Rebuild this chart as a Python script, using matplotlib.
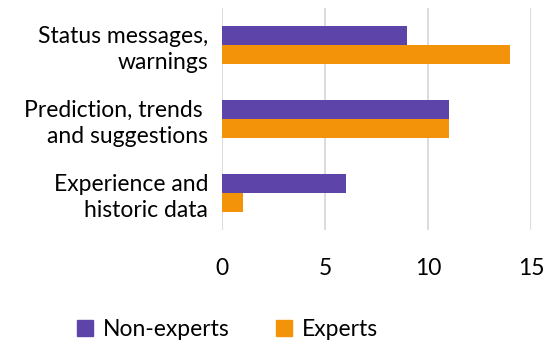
import numpy as np
import matplotlib
matplotlib.use("Agg")
import matplotlib.pyplot as plt
from matplotlib.patches import Patch

categories = ["Status messages,\nwarnings", "Prediction, trends \nand suggestions", "Experience and\nhistoric data"]
non_experts = [9, 11, 6]
experts = [14, 11, 1]
series_names = ["Non-experts", "Experts"]

purple = "#5d44a8"
orange = "#f2930a"

plt.rcParams["font.family"] = ["Lato", "DejaVu Sans"]
fs = 16.5

fig = plt.figure(figsize=(5.52, 3.45), dpi=100)
ax = fig.add_axes([0.402, 0.333, 0.56, 0.644])

y = np.arange(len(categories))
h = 0.26
ax.barh(y - h / 2, non_experts, height=h, color=purple, zorder=3)
ax.barh(y + h / 2, experts, height=h, color=orange, zorder=3)

ax.set_ylim(len(categories) - 0.5, -0.5)
ax.set_xlim(0, 15)
ax.set_xticks([0, 5, 10, 15])
ax.set_yticks(y)
ax.set_yticklabels(categories, fontsize=fs, linespacing=1.3, ha="right")
ax.tick_params(axis="x", labelsize=fs, length=0, pad=20)
ax.tick_params(axis="y", length=0, pad=10)
ax.grid(axis="x", color="#d9d9d9", linewidth=1.3, zorder=0)
for s in ax.spines.values():
    s.set_visible(False)

handles = [Patch(color=purple), Patch(color=orange)]
fig.legend(handles, series_names, loc="lower center", bbox_to_anchor=(0.412, -0.045),
           ncol=2, frameon=False, fontsize=fs, handlelength=0.7, handleheight=0.7,
           columnspacing=2.05, handletextpad=0.4)

fig.savefig("out.png", dpi=100, facecolor="white")
